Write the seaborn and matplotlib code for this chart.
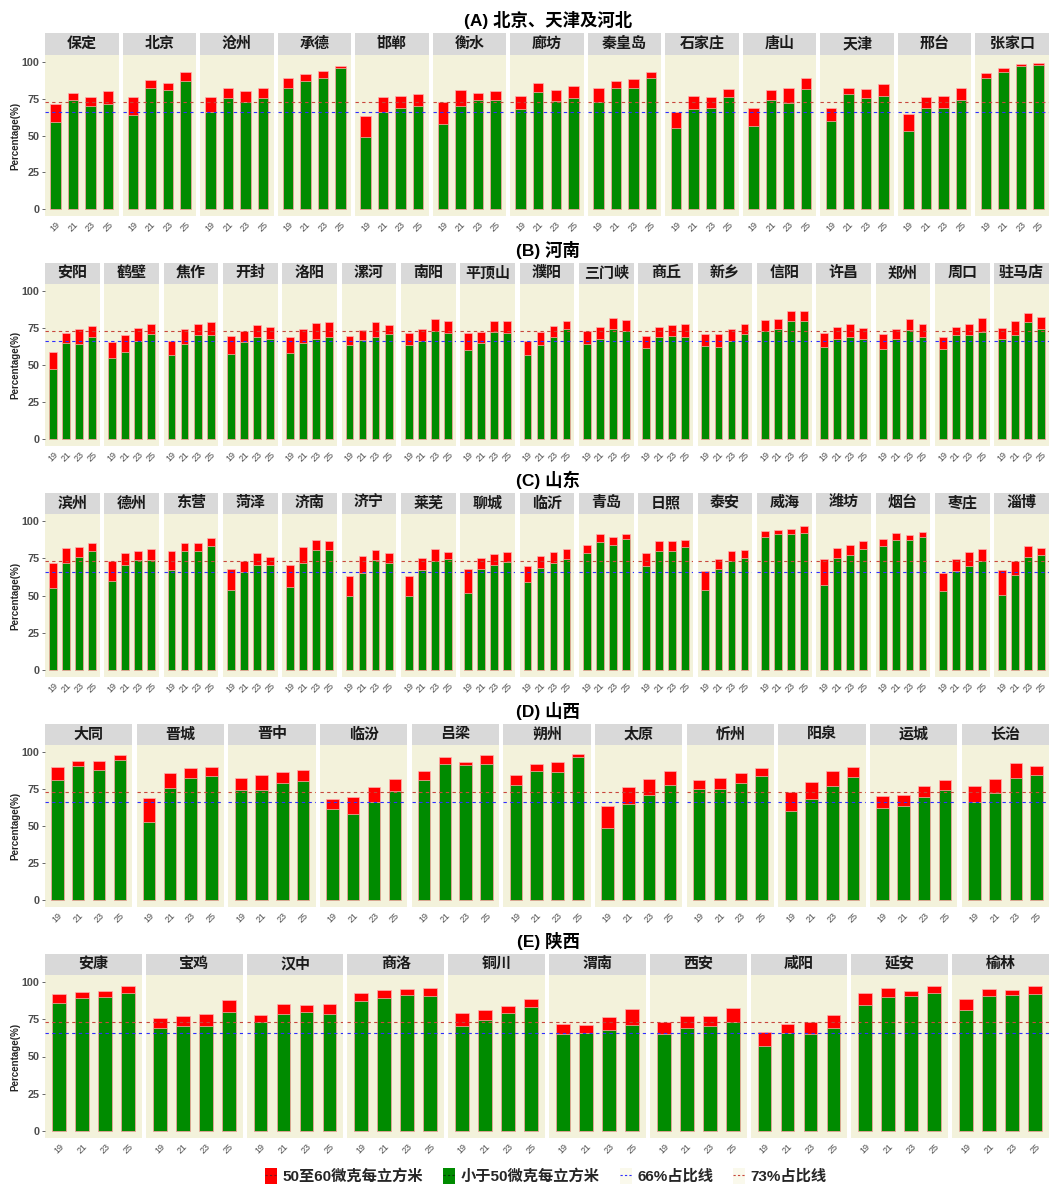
import numpy as np
import pandas as pd
import matplotlib
matplotlib.use("Agg")
import matplotlib.pyplot as plt
import seaborn as sns
from matplotlib.patches import Patch
from matplotlib.lines import Line2D

years = ["19", "21", "23", "25"]

# (A) 北京、天津及河北
cities_A = ["保定", "北京", "沧州", "承德", "邯郸", "衡水", "廊坊", "秦皇岛",
            "石家庄", "唐山", "天津", "邢台", "张家口"]
below50_A = [[59.0, 74.3, 69.8, 71.6], [63.7, 82.6, 80.8, 87.4], [66.0, 75.6, 73.0, 75.6],
             [82.4, 87.4, 89.0, 95.7], [49.2, 66.0, 68.4, 70.2], [58.0, 70.0, 74.0, 74.0],
             [67.7, 79.7, 73.8, 75.8], [73.0, 82.6, 82.6, 89.0], [55.0, 67.7, 68.4, 76.3],
             [56.4, 74.3, 71.8, 81.7], [59.6, 78.0, 75.2, 76.7], [53.0, 68.8, 68.6, 74.0],
             [89.0, 93.0, 97.0, 98.2]]
below60_A = [[71.6, 78.8, 76.3, 80.6], [76.3, 88.0, 85.8, 93.2], [76.4, 82.4, 80.0, 82.4],
             [89.4, 91.9, 93.7, 97.3], [63.2, 76.3, 76.7, 78.0], [73.1, 81.0, 79.2, 80.0],
             [77.0, 85.8, 81.0, 83.5], [82.6, 87.4, 88.3, 93.0], [66.0, 77.0, 76.3, 81.7],
             [68.8, 81.0, 82.4, 89.2], [68.6, 82.6, 81.7, 85.3], [64.3, 76.5, 77.0, 82.2],
             [92.6, 95.7, 98.9, 99.5]]

# (B) 河南
cities_B = ["安阳", "鹤壁", "焦作", "开封", "洛阳", "漯河", "南阳", "平顶山", "濮阳",
            "三门峡", "商丘", "新乡", "信阳", "许昌", "郑州", "周口", "驻马店"]
below50_B = [[47.4, 64.8, 64.3, 69.0], [55.0, 58.7, 66.0, 70.7], [56.7, 64.3, 70.2, 70.2],
             [57.3, 65.7, 68.8, 67.7], [57.8, 64.6, 67.7, 68.8], [63.2, 66.8, 68.8, 70.9],
             [63.2, 66.0, 73.1, 71.8], [60.3, 65.0, 72.2, 71.6], [56.7, 63.2, 68.8, 74.0],
             [63.9, 67.3, 74.3, 72.9], [61.6, 68.6, 69.3, 69.0], [62.5, 61.9, 66.1, 70.9],
             [72.9, 74.0, 79.5, 79.9], [62.1, 67.7, 69.0, 67.7], [60.7, 67.9, 73.6, 68.8],
             [60.9, 70.4, 70.0, 72.5], [67.3, 70.0, 79.0, 74.0]]
below60_B = [[58.5, 71.8, 74.0, 76.3], [65.7, 70.0, 74.7, 78.0], [66.0, 74.0, 78.0, 79.0],
             [69.5, 72.9, 77.2, 76.0], [68.8, 74.5, 78.6, 79.2], [69.5, 73.6, 79.0, 77.2],
             [71.8, 74.0, 80.8, 79.7], [71.6, 72.5, 80.0, 79.9], [66.4, 72.5, 76.3, 79.9],
             [72.7, 75.4, 81.5, 80.4], [69.8, 76.0, 77.2, 78.0], [71.1, 70.7, 74.0, 78.0],
             [80.4, 81.0, 86.5, 86.7], [71.8, 75.4, 77.9, 75.2], [71.1, 74.5, 80.8, 78.0],
             [68.6, 75.6, 77.4, 81.9], [75.2, 79.7, 85.3, 82.4]]

# (C) 山东
cities_C = ["滨州", "德州", "东营", "菏泽", "济南", "济宁", "莱芜", "聊城", "临沂",
            "青岛", "日照", "泰安", "威海", "潍坊", "烟台", "枣庄", "淄博"]
below50_C = [[55.0, 71.8, 75.8, 79.7], [59.4, 70.4, 74.0, 74.0], [67.3, 79.9, 79.9, 83.1],
             [54.0, 66.0, 70.4, 70.4], [56.0, 71.8, 80.8, 80.4], [49.4, 64.8, 74.0, 71.6],
             [49.4, 67.0, 73.4, 74.5], [51.5, 67.5, 70.2, 72.7], [58.9, 68.6, 71.6, 74.7],
             [78.3, 86.0, 84.0, 88.0], [69.8, 80.1, 79.7, 82.4], [53.7, 67.9, 73.4, 75.2],
             [89.4, 91.4, 91.4, 91.9], [56.9, 75.2, 77.2, 81.0], [83.5, 87.1, 87.1, 89.2],
             [52.8, 66.6, 70.0, 72.9], [50.6, 63.7, 75.8, 77.0]]
below60_C = [[72.0, 81.7, 82.4, 85.1], [73.4, 78.6, 79.7, 81.3], [79.7, 84.9, 84.9, 88.5],
             [67.7, 73.4, 78.8, 75.8], [70.4, 82.8, 87.1, 86.9], [63.4, 76.5, 80.6, 78.8],
             [62.8, 75.4, 81.5, 79.0], [67.5, 75.2, 77.9, 79.0], [69.5, 76.5, 79.5, 81.5],
             [84.2, 91.4, 89.4, 91.6], [78.3, 86.7, 86.9, 87.1], [66.6, 74.7, 79.7, 80.8],
             [93.0, 93.9, 94.8, 96.6], [74.7, 82.2, 83.7, 86.7], [87.8, 92.1, 90.7, 92.8],
             [64.8, 74.3, 79.2, 81.0], [67.3, 73.4, 83.1, 81.9]]

# (D) 山西
cities_D = ["大同", "晋城", "晋中", "临汾", "吕梁", "朔州", "太原", "忻州", "阳泉", "运城", "长治"]
below50_D = [[80.8, 90.5, 88.0, 94.4], [52.6, 75.6, 82.6, 84.0], [74.5, 74.0, 78.8, 80.6],
             [61.4, 58.0, 65.9, 73.6], [81.3, 92.1, 91.2, 91.9], [77.4, 87.1, 86.5, 96.4],
             [48.5, 65.0, 70.7, 77.4], [74.7, 75.2, 79.0, 83.5], [60.0, 68.2, 77.2, 83.1],
             [62.3, 63.2, 69.5, 74.5], [65.9, 72.2, 82.6, 84.2]]
below60_D = [[89.6, 94.1, 94.1, 97.7], [68.6, 85.8, 89.2, 90.0], [82.2, 84.4, 86.2, 87.8],
             [68.4, 69.3, 76.3, 81.9], [87.1, 96.4, 93.5, 98.0], [84.2, 92.1, 93.2, 98.6],
             [63.2, 76.1, 81.5, 86.9], [81.3, 82.6, 86.0, 89.2], [73.1, 79.9, 86.9, 89.6],
             [70.0, 71.1, 76.7, 81.3], [77.0, 81.9, 92.3, 90.5]]

# (E) 陕西
cities_E = ["安康", "宝鸡", "汉中", "商洛", "铜川", "渭南", "西安", "咸阳", "延安", "榆林"]
below50_E = [[85.6, 89.4, 89.7, 92.6], [69.4, 70.6, 70.3, 80.2], [73.0, 78.4, 80.2, 78.2],
             [87.4, 89.4, 91.2, 90.8], [70.8, 74.6, 78.9, 83.1], [64.9, 66.0, 67.9, 71.0],
             [64.9, 69.2, 70.6, 73.3], [57.3, 66.0, 65.2, 69.2], [84.3, 89.9, 90.3, 92.8],
             [80.9, 90.8, 91.0, 92.1]]
below60_E = [[92.1, 93.5, 93.9, 97.1], [76.0, 77.5, 78.4, 87.9], [78.0, 85.2, 84.3, 85.4],
             [92.4, 94.8, 95.3, 96.2], [79.3, 80.9, 83.8, 88.8], [71.7, 71.2, 76.2, 81.6],
             [73.3, 77.1, 76.9, 82.7], [66.5, 72.1, 73.0, 77.8], [92.6, 96.0, 94.2, 97.3],
             [88.5, 95.5, 94.6, 97.5]]

RED = "#FF0000"
GREEN = "#008B00"
PANEL_BG = "#F3F2DB"
STRIP_BG = "#D9D9D9"
BLUE_LINE = "#2E2EFF"
RED_LINE = "#C8463C"

sns.set_theme(style="white")
plt.rcParams["font.family"] = ["Liberation Sans", "Noto Sans CJK SC", "DejaVu Sans"]

W, H = 1051, 1187
fig = plt.figure(figsize=(W / 100, H / 100), dpi=100)


def draw_row(title, cities, lo, hi, title_y, strip_top, y0, y100, gap):
    # pixel geometry of one facet row
    left0, right0 = 45, 1049
    n = len(cities)
    w = (right0 - left0 - (n - 1) * gap) / n
    ppu = (y0 - y100) / 100
    ax_bot = y0 + 5 * ppu
    ax_top = y100 - 5 * ppu

    fig.text(548 / W, 1 - title_y / H, title, ha="center", va="center",
             fontsize=12.5, fontweight="bold", color="black")
    fig.text(15 / W, 1 - ((y0 + y100) / 2) / H, "Percentage(%)", rotation=90,
             ha="center", va="center", fontsize=7, fontweight="bold")

    for i, city in enumerate(cities):
        left = left0 + i * (w + gap)
        ax = fig.add_axes([left / W, 1 - ax_bot / H, w / W, (ax_bot - ax_top) / H])
        df = pd.DataFrame({"year": years, "lt50": lo[i], "lt60": hi[i]})
        sns.barplot(data=df, x="year", y="lt60", color=RED, saturation=1, width=0.6,
                    edgecolor="#FFB0B0", linewidth=0.5, errorbar=None, ax=ax)
        sns.barplot(data=df, x="year", y="lt50", color=GREEN, saturation=1, width=0.6,
                    edgecolor="#FFB0B0", linewidth=0.5, errorbar=None, ax=ax)
        ax.axhline(66, color=BLUE_LINE, ls=(0, (3, 3)), lw=0.8, zorder=3)
        ax.axhline(73, color=RED_LINE, ls=(0, (3, 3)), lw=0.8, zorder=3)
        ax.set_xlim(-0.6, 3.6)
        ax.set_ylim(-5, 105)
        ax.set_facecolor(PANEL_BG)
        for s in ax.spines.values():
            s.set_visible(False)
        ax.set_xlabel("")
        ax.set_ylabel("")
        ax.tick_params(axis="x", length=0, pad=2.5, labelsize=6.5, labelcolor="#4D4D4D")
        for lab in ax.get_xticklabels():
            lab.set_rotation(45)
            lab.set_ha("center")
        if i == 0:
            ax.set_yticks([0, 25, 50, 75, 100])
            ax.tick_params(axis="y", left=True, length=2.5, width=0.6, color="#4D4D4D",
                           pad=1.5, labelsize=7.8, labelcolor="#4D4D4D")
            for lab in ax.get_yticklabels():
                lab.set_fontweight("bold")
        else:
            ax.set_yticks([])

        sax = fig.add_axes([left / W, 1 - ax_top / H, w / W, (ax_top - strip_top) / H])
        sax.set_facecolor(STRIP_BG)
        sax.set_xticks([])
        sax.set_yticks([])
        for s in sax.spines.values():
            s.set_visible(False)
        sax.text(0.5, 0.5, city, ha="center", va="center", fontsize=10.8,
                 fontweight="bold", color="#1A1A1A", transform=sax.transAxes)


draw_row("(A) 北京、天津及河北", cities_A, below50_A, below60_A, 20, 33, 209, 62, 4)
draw_row("(B) 河南", cities_B, below50_B, below60_B, 250, 263, 439, 291, 4.5)
draw_row("(C) 山东", cities_C, below50_C, below60_C, 480, 493, 670, 521, 4.5)
draw_row("(D) 山西", cities_D, below50_D, below60_D, 711, 724, 900, 752, 4.5)
draw_row("(E) 陕西", cities_E, below50_E, below60_E, 941, 954, 1131, 982, 4)

# legend keys: filled squares and dashed guide lines, as in the ggplot legend
dash = (0, (2, 2))
handles = [
    (Patch(facecolor=RED, edgecolor="none"), Line2D([0], [0], color="#7A1A1A", ls=dash, lw=0.8)),
    (Patch(facecolor=GREEN, edgecolor="none"), Line2D([0], [0], color="#0A3A0A", ls=dash, lw=0.8)),
    (Patch(facecolor="#FAF9EC", edgecolor="none"), Line2D([0], [0], color=BLUE_LINE, ls=dash, lw=0.8)),
    (Patch(facecolor="#FAF9EC", edgecolor="none"), Line2D([0], [0], color=RED_LINE, ls=dash, lw=0.8)),
]
labels = ["50至60微克每立方米", "小于50微克每立方米", "66%占比线", "73%占比线"]
fig.legend(handles, labels, loc="center", bbox_to_anchor=(546 / W, 1 - 1176 / H),
           ncol=4, frameon=False, prop={"weight": "bold", "size": 11},
           handlelength=0.8, handleheight=1.2, handletextpad=0.35, columnspacing=1.3)

fig.savefig("out.png", dpi=100)
